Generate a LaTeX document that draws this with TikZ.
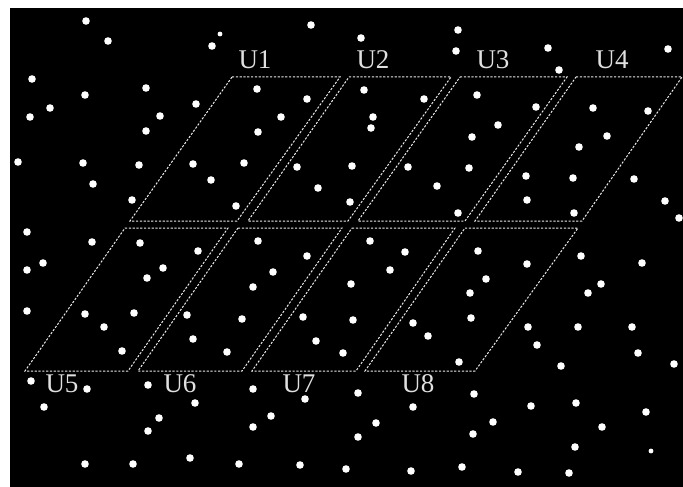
\documentclass[tikz,border=0pt]{standalone}
\usepackage{fontspec}
\setmainfont{Liberation Serif}
\usetikzlibrary{positioning}

\begin{document}
\begin{tikzpicture}[x=1pt, y=-1pt,
	spot/.style={fill=white, draw=none},
	cell/.style={draw=white!92!black, dash pattern=on 2.2pt off 1.6pt, line width=1pt},
	lab/.style={text=white!88!black, font=\fontsize{27}{27}\selectfont, inner sep=0pt}]
	\useasboundingbox (0,0) rectangle (683,487);
	\fill[black] (10,8) rectangle (683,487);
	% particles
	\foreach \px/\py in {86/21,108/41,212/46,32/79,85/95,146/88,50/108,30/117,160/116,196/104,146/131,18/162,83/163,139/165,193/164,
		311/25,361/38,257/89,307/99,281/117,258/132,244/163,297/167,364/90,424/99,373/117,371/128,352/166,408/167,
		458/30,456/51,548/48,559/70,668/49,477/95,536/107,498/125,472/137,469/168,593/108,648/111,607/136,579/147,
		93/184,211/180,132/200,27/232,92/242,140/243,198/251,27/270,43/263,163/268,147/278,27/311,85/314,134/313,187/315,104/327,
		318/188,350/202,437/186,236/206,258/241,307/256,273/272,253/287,242/319,303/317,370/241,405/252,390/270,351/284,353/320,413/323,
		526/176,573/178,634/179,527/200,574/213,458/213,665/201,679/218,478/251,527/264,486/279,470/293,471/318,581/256,642/263,601/284,588/293,528/327,578/327,632/327,
		122/351,193/339,227/352,31/381,87/389,44/407,148/385,195/403,159/418,148/431,85/464,133/464,190/458,
		428/336,316/341,343/353,253/389,305/399,271/416,253/427,358/393,376/423,358/437,413/407,239/464,300/465,346/469,411/471,
		537/345,561/366,638/353,674/364,459/362,474/394,531/406,576/403,646/412,493/422,473/434,602/427,575/447,462/467,518/472,569/473}
		\fill[spot] (\px,\py) circle (3.8);
	\fill[spot] (220,34) circle (2.4);
	\fill[spot] (651,451) circle (2.4);
	% upper cells
	\draw[cell] (232,77) -- (340,77) -- (237,221) -- (130,221) -- cycle;
	\draw[cell] (349,77) -- (451,77) -- (348,221) -- (248,221) -- cycle;
	\draw[cell] (460,77) -- (567,77) -- (465,221) -- (358,221) -- cycle;
	\draw[cell] (576,77) -- (682,77) -- (582,221) -- (475,221) -- cycle;
	% lower cells
	\draw[cell] (125,228) -- (228,228) -- (128,371) -- (25,371) -- cycle;
	\draw[cell] (238,228) -- (342,228) -- (242,371) -- (138,371) -- cycle;
	\draw[cell] (352,228) -- (455,228) -- (356,371) -- (252,371) -- cycle;
	\draw[cell] (465,228) -- (578,228) -- (475,371) -- (365,371) -- cycle;
	% labels
	\node[lab] (u1) at (255,60) {U1};
	\node[lab] (u2) at (373,60) {U2};
	\node[lab] (u3) at (493,60) {U3};
	\node[lab] (u4) at (612,60) {U4};
	\node[lab] (u5) at (62,384) {U5};
	\node[lab] (u6) at (180,384) {U6};
	\node[lab] (u7) at (299,384) {U7};
	\node[lab] (u8) at (418,384) {U8};
\end{tikzpicture}
\end{document}
